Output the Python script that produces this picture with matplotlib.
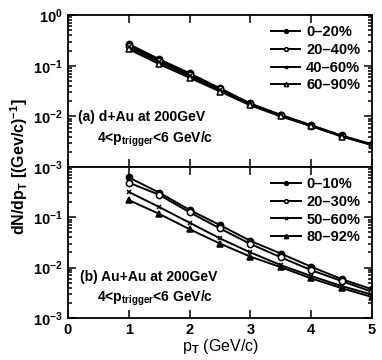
import matplotlib
matplotlib.use("Agg")
import matplotlib.pyplot as plt
import numpy as np

plt.rcParams['font.family'] = 'Liberation Sans'
plt.rcParams['font.weight'] = 'bold'
plt.rcParams['mathtext.fontset'] = 'custom'
plt.rcParams['mathtext.rm'] = 'Liberation Sans:bold'
plt.rcParams['mathtext.it'] = 'Liberation Sans:bold'
plt.rcParams['mathtext.bf'] = 'Liberation Sans:bold'

pt = [1.0, 1.5, 2.0, 2.5, 3.0, 3.5, 4.0, 4.5, 5.0]

# (a) d+Au
dau_labels = ['0\u201320%', '20\u201340%', '40\u201360%', '60\u201390%']
dau_0_20 = [0.268, 0.135, 0.071, 0.036, 0.018, 0.0107, 0.0067, 0.0042, 0.0028]
dau_20_40 = [0.250, 0.127, 0.067, 0.0345, 0.0176, 0.0105, 0.0066, 0.0041, 0.00278]
dau_40_60 = [0.232, 0.118, 0.063, 0.0330, 0.0170, 0.0103, 0.0065, 0.0041, 0.00275]
dau_60_90 = [0.212, 0.108, 0.058, 0.031, 0.0165, 0.0100, 0.0064, 0.0040, 0.0027]

# (b) Au+Au
auau_labels = ['0\u201310%', '20\u201330%', '50\u201360%', '80\u201392%']
auau_0_10 = [0.62, 0.31, 0.14, 0.070, 0.034, 0.019, 0.0104, 0.0059, 0.0037]
auau_20_30 = [0.49, 0.28, 0.126, 0.060, 0.0295, 0.016, 0.0089, 0.0054, 0.0033]
auau_50_60 = [0.32, 0.16, 0.078, 0.038, 0.020, 0.0112, 0.0068, 0.0043, 0.0029]
auau_80_92 = [0.22, 0.117, 0.058, 0.030, 0.0165, 0.0102, 0.0061, 0.0039, 0.0026]

fig = plt.figure(figsize=(3.82, 3.6), dpi=100)
ax1 = fig.add_axes([0.178, 0.536, 0.796, 0.422])
ax2 = fig.add_axes([0.178, 0.117, 0.796, 0.419], sharex=ax1)

styles_a = [dict(marker='o', mfc='black', ms=4.5),
            dict(marker='o', mfc='white', ms=4.5),
            dict(marker='x', mfc='black', ms=3.5),
            dict(marker='^', mfc='white', ms=5)]
styles_b = [dict(marker='o', mfc='black', ms=4.5),
            dict(marker='o', mfc='white', ms=4.5),
            dict(marker='x', mfc='black', ms=3.5),
            dict(marker='^', mfc='black', ms=5)]

for ys, lab, st in zip([dau_0_20, dau_20_40, dau_40_60, dau_60_90], dau_labels, styles_a):
    ax1.plot(pt, ys, color='black', lw=1.4, mec='black', mew=1.1, label=lab, **st)
for ys, lab, st in zip([auau_0_10, auau_20_30, auau_50_60, auau_80_92], auau_labels, styles_b):
    ax2.plot(pt, ys, color='black', lw=1.4, mec='black', mew=1.1, label=lab, **st)

for ax in (ax1, ax2):
    ax.set_yscale('log')
    ax.set_ylim(1e-3, 1)
    ax.set_xlim(0, 5)
    ax.set_xticks([0, 1, 2, 3, 4, 5])
    ax.tick_params(which='both', direction='in', top=True, right=True, labelsize=10.5, width=1.1)
    ax.tick_params(which='major', length=6)
    ax.tick_params(which='minor', length=3)
    for s in ax.spines.values():
        s.set_linewidth(1.3)
    ax.legend(loc='upper right', frameon=False, fontsize=10.5, handlelength=2.0,
              handletextpad=0.4, labelspacing=0.25, borderaxespad=0.3,
              markerscale=0.6, bbox_to_anchor=(0.995, 1.0))

ax1.tick_params(axis='x', labelbottom=False)
ax2.set_yticks([1e-3, 1e-2, 1e-1])

ax1.text(0.033, 0.33, '(a) d+Au at 200GeV', transform=ax1.transAxes, fontsize=10, va='center')
ax1.text(0.095, 0.18, '4<p$_{trigger}$<6 GeV/c', transform=ax1.transAxes, fontsize=10, va='center')
ax2.text(0.04, 0.27, '(b) Au+Au at 200GeV', transform=ax2.transAxes, fontsize=10, va='center')
ax2.text(0.095, 0.13, '4<p$_{trigger}$<6 GeV/c', transform=ax2.transAxes, fontsize=10, va='center')

ax2.set_xlabel('p$_T$ (GeV/c)', fontsize=11.5, labelpad=0)
fig.text(0.05, 0.536, 'dN/dp$_T$ [(Gev/c)$^{-1}$]', rotation=90, fontsize=11.5,
         ha='center', va='center')

fig.savefig('out.png', dpi=100)
